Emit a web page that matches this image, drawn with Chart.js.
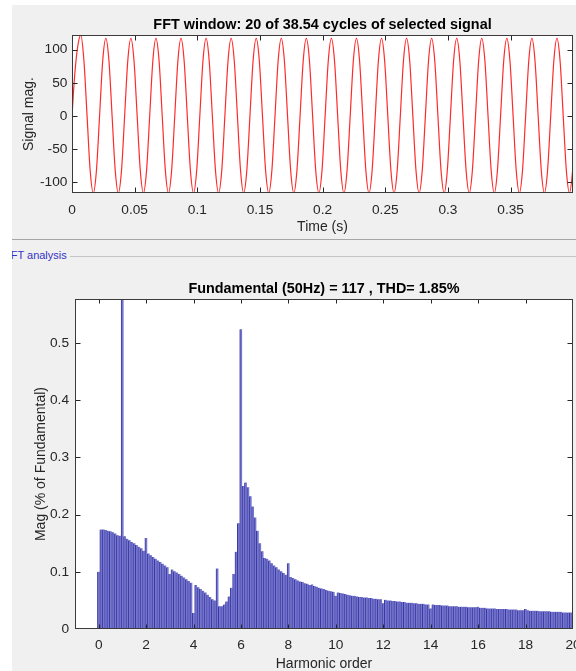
<!DOCTYPE html>
<html>
<head>
<meta charset="utf-8">
<script src="https://cdn.jsdelivr.net/npm/chart.js@4.4.1/dist/chart.umd.min.js"></script>
<style>
  html, body { margin: 0; padding: 0; background: #ffffff; }
  body { width: 576px; height: 671px; overflow: hidden; position: relative; font-family: 'Liberation Sans', Arial, Helvetica, sans-serif; }
  .abs { position: absolute; }
</style>
</head>
<body>
<div class="abs" style="left:12px;top:5px;width:564px;height:234px;background:#f0f0f0"></div>
<div class="abs" style="left:12px;top:239px;width:564px;height:1px;background:#a6a6a6"></div>
<div class="abs" style="left:12px;top:240px;width:564px;height:431px;background:#f0f0f0"></div>
<div class="abs" style="left:70px;top:256px;width:506px;height:1px;background:#c4c4c4"></div>
<div class="abs" style="left:12px;top:248px;width:58px;height:17px;overflow:hidden">
  <span class="abs" style="left:-8px;top:1px;font-size:11px;color:#3434c4;white-space:nowrap">FFT analysis</span>
</div>
<canvas id="c1" class="abs" style="left:0;top:0" width="576" height="240"></canvas>
<canvas id="c2" class="abs" style="left:0;top:240px" width="576" height="450"></canvas>
<script>
// ---------- data: selected signal window ----------
const signalTime = [
0,
0.002,0.0045,0.007,0.0095,0.012,0.0145,0.017,0.0195,
0.022,0.0245,0.027,0.0295,0.032,0.0345,0.037,0.0395,
0.042,0.0445,0.047,0.0495,0.052,0.0545,0.057,0.0595,
0.062,0.0645,0.067,0.0695,0.072,0.0745,0.077,0.0795,
0.082,0.0845,0.087,0.0895,0.092,0.0945,0.097,0.0995,
0.102,0.1045,0.107,0.1095,0.112,0.1145,0.117,0.1195,
0.122,0.1245,0.127,0.1295,0.132,0.1345,0.137,0.1395,
0.142,0.1445,0.147,0.1495,0.152,0.1545,0.157,0.1595,
0.162,0.1645,0.167,0.1695,0.172,0.1745,0.177,0.1795,
0.182,0.1845,0.187,0.1895,0.192,0.1945,0.197,0.1995,
0.202,0.2045,0.207,0.2095,0.212,0.2145,0.217,0.2195,
0.222,0.2245,0.227,0.2295,0.232,0.2345,0.237,0.2395,
0.242,0.2445,0.247,0.2495,0.252,0.2545,0.257,0.2595,
0.262,0.2645,0.267,0.2695,0.272,0.2745,0.277,0.2795,
0.282,0.2845,0.287,0.2895,0.292,0.2945,0.297,0.2995,
0.302,0.3045,0.307,0.3095,0.312,0.3145,0.317,0.3195,
0.322,0.3245,0.327,0.3295,0.332,0.3345,0.337,0.3395,
0.342,0.3445,0.347,0.3495,0.352,0.3545,0.357,0.3595,
0.362,0.3645,0.367,0.3695,0.372,0.3745,0.377,0.3795,
0.382,0.3845,0.387,0.3895,0.392,0.3945,0.397,0.3995,
0.4
];
const signalMag = [
0,
58,104,122,84,1,-82,-116,-82,
0,83,117,83,0,-82,-116,-82,
0,83,117,83,0,-82,-116,-82,
0,83,117,83,0,-82,-116,-82,
0,83,117,83,0,-82,-116,-82,
0,83,117,83,0,-82,-116,-82,
0,83,117,83,0,-82,-116,-82,
0,83,117,83,0,-82,-116,-82,
0,83,117,83,0,-82,-116,-82,
0,83,117,83,0,-82,-116,-82,
0,83,117,83,0,-82,-116,-82,
0,83,117,83,0,-82,-116,-82,
0,83,117,83,0,-82,-116,-82,
0,83,117,83,0,-82,-116,-82,
0,83,117,83,0,-82,-116,-82,
0,83,117,83,0,-82,-116,-82,
0,83,117,83,0,-82,-116,-82,
0,83,117,83,0,-82,-116,-82,
0,83,117,83,0,-82,-116,-82,
0,83,117,83,0,-82,-116,-82,
-68
];
const timeTicks = [0, 0.05, 0.1, 0.15, 0.2, 0.25, 0.3, 0.35];
const signalTicks = [-100, -50, 0, 50, 100];

// ---------- data: FFT spectrum ----------
const harmonicOrder = [
0,0.1,0.2,0.3,0.4,0.5,0.6,0.7,0.8,0.9,
1,1.1,1.2,1.3,1.4,1.5,1.6,1.7,1.8,1.9,
2,2.1,2.2,2.3,2.4,2.5,2.6,2.7,2.8,2.9,
3,3.1,3.2,3.3,3.4,3.5,3.6,3.7,3.8,3.9,
4,4.1,4.2,4.3,4.4,4.5,4.6,4.7,4.8,4.9,
5,5.1,5.2,5.3,5.4,5.5,5.6,5.7,5.8,5.9,
6,6.1,6.2,6.3,6.4,6.5,6.6,6.7,6.8,6.9,
7,7.1,7.2,7.3,7.4,7.5,7.6,7.7,7.8,7.9,
8,8.1,8.2,8.3,8.4,8.5,8.6,8.7,8.8,8.9,
9,9.1,9.2,9.3,9.4,9.5,9.6,9.7,9.8,9.9,
10,10.1,10.2,10.3,10.4,10.5,10.6,10.7,10.8,10.9,
11,11.1,11.2,11.3,11.4,11.5,11.6,11.7,11.8,11.9,
12,12.1,12.2,12.3,12.4,12.5,12.6,12.7,12.8,12.9,
13,13.1,13.2,13.3,13.4,13.5,13.6,13.7,13.8,13.9,
14,14.1,14.2,14.3,14.4,14.5,14.6,14.7,14.8,14.9,
15,15.1,15.2,15.3,15.4,15.5,15.6,15.7,15.8,15.9,
16,16.1,16.2,16.3,16.4,16.5,16.6,16.7,16.8,16.9,
17,17.1,17.2,17.3,17.4,17.5,17.6,17.7,17.8,17.9,
18,18.1,18.2,18.3,18.4,18.5,18.6,18.7,18.8,18.9,
19,19.1,19.2,19.3,19.4,19.5,19.6,19.7,19.8,19.9,
20
];
const magPct = [
0.100,0.174,0.174,0.173,0.172,0.171,0.169,0.167,0.164,0.163,
100,0.162,0.158,0.155,0.152,0.150,0.147,0.144,0.141,0.137,
0.159,0.132,0.129,0.126,0.123,0.120,0.117,0.114,0.111,0.108,
0.096,0.104,0.101,0.099,0.096,0.093,0.090,0.087,0.084,0.081,
0.028,0.077,0.073,0.070,0.067,0.064,0.060,0.056,0.052,0.050,
0.106,0.040,0.040,0.043,0.048,0.057,0.072,0.096,0.135,0.185,
0.524,0.250,0.256,0.248,0.232,0.214,0.195,0.172,0.150,0.136,
0.124,0.123,0.120,0.115,0.111,0.108,0.104,0.101,0.098,0.095,
0.115,0.091,0.089,0.087,0.085,0.083,0.082,0.080,0.079,0.077,
0.078,0.075,0.074,0.072,0.071,0.070,0.068,0.067,0.066,0.065,
0.058,0.064,0.063,0.062,0.061,0.060,0.059,0.058,0.058,0.057,
0.056,0.056,0.055,0.055,0.054,0.054,0.053,0.053,0.052,0.052,
0.045,0.051,0.050,0.050,0.049,0.049,0.048,0.048,0.047,0.047,
0.046,0.046,0.046,0.045,0.045,0.044,0.044,0.044,0.043,0.043,
0.036,0.043,0.042,0.042,0.042,0.041,0.041,0.041,0.040,0.040,
0.040,0.040,0.039,0.039,0.039,0.039,0.038,0.038,0.038,0.038,
0.039,0.037,0.037,0.037,0.036,0.036,0.036,0.036,0.035,0.035,
0.035,0.035,0.035,0.034,0.034,0.034,0.034,0.033,0.033,0.033,
0.035,0.033,0.032,0.032,0.032,0.032,0.031,0.031,0.031,0.031,
0.031,0.030,0.030,0.030,0.030,0.030,0.029,0.029,0.029,0.029,
0.029
];
const harmonicTicks = [0, 2, 4, 6, 8, 10, 12, 14, 16, 18, 20];
const magTicks = [0, 0.1, 0.2, 0.3, 0.4, 0.5];

// ---------- styling / helpers ----------
const FAMILY = "'Liberation Sans', Arial, Helvetica, sans-serif";
const AXIS_COLOR = '#262626';
Chart.defaults.font.family = FAMILY;
Chart.defaults.color = AXIS_COLOR;

const fmt = v => String(Math.round(v * 10000) / 10000);
const useTicks = arr => (scale) => { scale.ticks = arr.map(v => ({ value: v })); };

const matlabAxes = {
  id: 'matlabAxes',
  beforeDraw(chart) {
    const { ctx, chartArea: a } = chart;
    ctx.save();
    ctx.fillStyle = '#ffffff';
    ctx.fillRect(a.left, a.top, a.right - a.left, a.bottom - a.top);
    ctx.restore();
  },
  afterDatasetsDraw(chart, args, opts) {
    const { ctx, chartArea: a, scales } = chart;
    const xs = scales.x, ys = scales.y;
    const L = Math.round(a.left) + 0.5, R = Math.round(a.right) - 0.5;
    const T = Math.round(a.top) + 0.5, B = Math.round(a.bottom) - 0.5;
    ctx.save();
    ctx.strokeStyle = AXIS_COLOR;
    ctx.lineWidth = 1;
    ctx.beginPath();
    xs.ticks.forEach(t => {
      const p = Math.round(xs.getPixelForValue(t.value)) + 0.5;
      if (p < L || p > R) return;
      ctx.moveTo(p, B); ctx.lineTo(p, B - opts.xLen);
      ctx.moveTo(p, T); ctx.lineTo(p, T + opts.xLen);
    });
    ys.ticks.forEach(t => {
      const p = Math.round(ys.getPixelForValue(t.value)) + 0.5;
      if (p < T || p > B) return;
      ctx.moveTo(L, p); ctx.lineTo(L + opts.yLen, p);
      ctx.moveTo(R, p); ctx.lineTo(R - opts.yLen, p);
    });
    ctx.stroke();
    ctx.strokeStyle = '#3a3a3a';
    ctx.strokeRect(L, T, R - L, B - T);
    ctx.restore();
  }
};

const tickFont = { size: 13.7, family: FAMILY };
const labelFont = { size: 14, family: FAMILY };
const titleFont = { size: 14.4, weight: 'bold', family: FAMILY };

// ---------- chart 1: signal ----------
new Chart(document.getElementById('c1'), {
  type: 'line',
  data: {
    datasets: [{
      data: signalTime.map((t, i) => ({ x: t, y: signalMag[i] })),
      borderColor: '#ff2b2b',
      borderWidth: 1.2,
      pointRadius: 0,
      fill: false,
      tension: 0.4,
      cubicInterpolationMode: 'monotone'
    }]
  },
  options: {
    responsive: false,
    animation: false,
    events: [],
    layout: { padding: { left: 0, right: 3, top: 0, bottom: 0 } },
    plugins: {
      legend: { display: false },
      tooltip: { enabled: false },
      title: {
        display: true,
        fullSize: false,
        text: 'FFT window: 20 of 38.54 cycles of selected signal',
        color: '#000000',
        font: titleFont,
        padding: { top: 15.9, bottom: 1.86 }
      },
      matlabAxes: { xLen: 5, yLen: 5 }
    },
    scales: {
      x: {
        type: 'linear', min: 0, max: 0.3998, offset: false,
        grid: { display: false, drawTicks: false },
        border: { display: false },
        afterBuildTicks: useTicks(timeTicks),
        ticks: { padding: 8.6, font: tickFont, color: AXIS_COLOR, maxRotation: 0, autoSkip: false, callback: fmt },
        title: { display: true, text: 'Time (s)', color: AXIS_COLOR, font: labelFont, padding: { top: 0, bottom: 4.6 } },
        afterFit(s) { s.height = 47; s.paddingLeft = 0; s.paddingRight = 0; }
      },
      y: {
        type: 'linear', min: -116, max: 122,
        grid: { display: false, drawTicks: false },
        border: { display: false },
        afterBuildTicks: useTicks(signalTicks),
        ticks: { padding: 4.6, font: tickFont, color: AXIS_COLOR, autoSkip: false, callback: fmt },
        title: { display: true, text: 'Signal mag.', color: AXIS_COLOR, font: labelFont, padding: { top: 20.5, bottom: 0 } },
        afterFit(s) { s.width = 72; s.paddingTop = 0; s.paddingBottom = 0; }
      }
    }
  },
  plugins: [matlabAxes]
});

// ---------- chart 2: FFT spectrum ----------
new Chart(document.getElementById('c2'), {
  type: 'bar',
  data: {
    datasets: [{
      data: harmonicOrder.map((h, i) => ({ x: h, y: magPct[i] })),
      backgroundColor: '#7676cc',
      borderColor: '#3838a6',
      borderWidth: { left: 1, right: 0, top: 0, bottom: 0 },
      borderSkipped: false,
      inflateAmount: 0.45,
      barPercentage: 1,
      categoryPercentage: 1,
      clip: 0
    }]
  },
  options: {
    responsive: false,
    animation: false,
    events: [],
    layout: { padding: { left: 0, right: 3, top: 0, bottom: 0 } },
    plugins: {
      legend: { display: false },
      tooltip: { enabled: false },
      title: {
        display: true,
        fullSize: false,
        text: 'Fundamental (50Hz) = 117 , THD= 1.85%',
        color: '#000000',
        font: titleFont,
        padding: { top: 39.9, bottom: 1.86 }
      },
      matlabAxes: { xLen: 4, yLen: 5 }
    },
    scales: {
      x: {
        type: 'linear', min: -1, max: 20, offset: false,
        grid: { display: false, drawTicks: false, offset: false },
        border: { display: false },
        afterBuildTicks: useTicks(harmonicTicks),
        ticks: { padding: 7.9, font: tickFont, color: AXIS_COLOR, maxRotation: 0, autoSkip: false, callback: fmt },
        title: { display: true, text: 'Harmonic order', color: AXIS_COLOR, font: labelFont, padding: { top: 0, bottom: 17.6 } },
        afterFit(s) { s.height = 61; s.paddingLeft = 0; s.paddingRight = 0; }
      },
      y: {
        type: 'linear', min: 0, max: 0.577,
        grid: { display: false, drawTicks: false },
        border: { display: false },
        afterBuildTicks: useTicks(magTicks),
        ticks: { padding: 6, font: tickFont, color: AXIS_COLOR, autoSkip: false, callback: fmt },
        title: { display: true, text: 'Mag (% of Fundamental)', color: AXIS_COLOR, font: labelFont, padding: { top: 32.6, bottom: 0 } },
        afterFit(s) { s.width = 75; s.paddingTop = 0; s.paddingBottom = 0; }
      }
    }
  },
  plugins: [matlabAxes]
});
</script>
</body>
</html>
